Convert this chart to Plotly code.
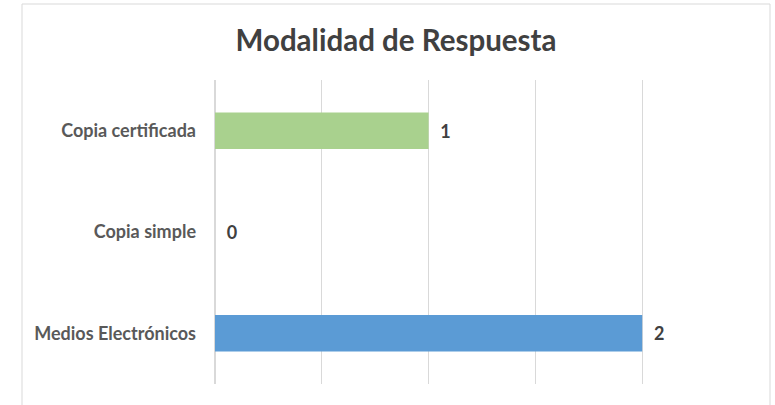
import plotly.graph_objects as go

categories = ["Medios Electrónicos", "Copia simple", "Copia certificada"]
values = [2, 0, 1]
colors = ["#5B9BD5", "#5B9BD5", "#A9D18E"]

W, H = 775, 405
ml, mr, mt, mb = 215, 26, 80, 21
pw, ph = W - ml - mr, H - mt - mb

def px_x(p):
    return (p - ml) / pw

def px_y(p):
    return (H - mb - p) / ph

fig = go.Figure(go.Bar(
    y=categories, x=values, orientation="h",
    marker=dict(color=colors, line=dict(width=0)),
    text=values, texttemplate="  %{x}", textposition="outside",
    textfont=dict(family="Lato", size=18, color="#404040", weight="bold"),
    cliponaxis=False,
))

fig.update_layout(
    width=W, height=H,
    margin=dict(l=ml, r=mr, t=mt, b=mb),
    paper_bgcolor="white", plot_bgcolor="white",
    bargap=0.64,
    showlegend=False,
    title=dict(text="<b>Modalidad de Respuesta</b>", x=396 / W, xanchor="center",
               y=1 - 41 / H, yanchor="middle",
               font=dict(family="Lato", size=29.5, color="#404040")),
    xaxis=dict(range=[0, 2.5], dtick=0.5, showticklabels=False, showgrid=True,
               gridcolor="#D9D9D9", gridwidth=1, zeroline=True, zerolinecolor="#D9D9D9",
               showline=False, fixedrange=True),
    yaxis=dict(showgrid=False, showline=False, ticks="", ticklabelstandoff=18,
               tickfont=dict(family="Lato", size=18, color="#595959", weight="bold")),
    shapes=[dict(type="rect", xref="paper", yref="paper",
                 x0=px_x(22), x1=px_x(770), y0=px_y(420), y1=px_y(4),
                 line=dict(color="#D9D9D9", width=1), fillcolor="rgba(0,0,0,0)",
                 layer="below")],
)

fig.write_html("out.html", config={"displayModeBar": False},
               post_script="document.body.style.margin='0';document.body.style.overflow='hidden';")
